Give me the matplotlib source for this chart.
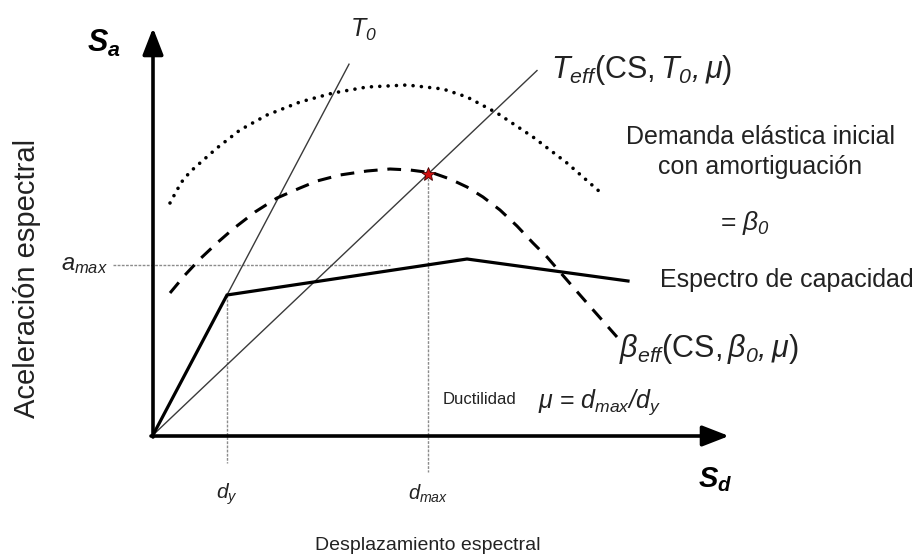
import matplotlib.pyplot as plt

plt.rcParams['font.family'] = ['Liberation Sans', 'DejaVu Sans']
plt.rcParams['mathtext.fontset'] = 'custom'
# rm en cursiva para que los subindices numericos salgan inclinados; sf queda recta
plt.rcParams['mathtext.rm'] = 'Liberation Sans:italic'
plt.rcParams['mathtext.it'] = 'Liberation Sans:italic'
plt.rcParams['mathtext.sf'] = 'Liberation Sans'
plt.rcParams['mathtext.bf'] = 'Liberation Sans:italic:bold'

# espectro de capacidad (bilineal con degradacion)
cap_sd = [0, 74, 314, 475]
cap_sa = [0, 140, 176, 154]

# demanda elastica inicial (beta_0)
dem0_sd = [17, 24, 30, 38, 47, 64, 87, 114, 147, 180, 214, 254, 290, 314, 344, 380, 414, 447]
dem0_sa = [232, 245, 255, 264, 272, 287, 305, 320, 333, 342, 348, 350, 346, 338, 322, 298, 272, 243]

# demanda con amortiguamiento efectivo (beta_eff)
demeff_sd = [17, 32, 47, 64, 80, 102, 124, 147, 164, 187, 214, 237, 257, 280, 297,
             314, 330, 347, 364, 380, 394, 407, 420, 434, 449, 464]
demeff_sa = [142, 160, 176, 192, 206, 223, 237, 247, 254, 260, 264, 266, 265, 262, 256,
             248, 238, 225, 209, 192, 178, 163, 148, 132, 115, 98]

# punto de desempeno
d_y, a_y = 74, 140
d_max, a_max = 275, 261
a_max_cap = 170

# extremos de las rectas de periodo
t0_end = 196
teff_end = 384

fig = plt.figure(figsize=(9.18, 5.6), dpi=100)
ax = fig.add_axes([0, 0, 1, 1])
ax.set_xlim(-153, 765)
ax.set_ylim(-125, 435)
ax.axis('off')

txt = '#222222'
guide = '#8c8c8c'

# ejes con flechas
ax.annotate('', xy=(0, 407), xytext=(0, -2),
            arrowprops=dict(arrowstyle='-|>,head_length=0.9,head_width=0.35',
                            lw=2.6, color='black', mutation_scale=18, shrinkA=0, shrinkB=0))
ax.annotate('', xy=(576, -1), xytext=(-2, -1),
            arrowprops=dict(arrowstyle='-|>,head_length=0.9,head_width=0.35',
                            lw=2.6, color='black', mutation_scale=18, shrinkA=0, shrinkB=0))

# lineas guia punteadas
ax.plot([-40, 237], [a_max_cap, a_max_cap], color=guide, lw=1, ls=(0, (2, 1)))
ax.plot([d_y, d_y], [a_y, -28], color=guide, lw=1, ls=(0, (2, 1)))
ax.plot([d_max, d_max], [a_max, -37], color=guide, lw=1, ls=(0, (2, 1)))

# rectas de periodo T0 y Teff
ax.plot([0, t0_end], [0, t0_end * a_y / d_y], color='#3a3a3a', lw=1.0)
ax.plot([0, teff_end], [0, teff_end * a_max / d_max], color='#3a3a3a', lw=1.0)

# curvas de demanda
ax.plot(dem0_sd, dem0_sa, color='black', lw=2.6, ls=(0, (0.01, 2.3)),
        dash_capstyle='round')
ax.plot(demeff_sd, demeff_sa, color='black', lw=2.2, ls=(0, (4.5, 3.2)))

# espectro de capacidad
ax.plot(cap_sd, cap_sa, color='black', lw=2.3, solid_joinstyle='miter')

# punto de desempeno
ax.plot([d_max], [a_max], marker='*', ms=10, color='#d01010', mec='#400000', mew=0.6)

# textos
ax.text(-49, 392, r'$\mathbf{S}_{\mathbf{a}}$', fontsize=22, ha='center', va='center', color='black')
ax.text(562, -45, r'$\mathbf{S}_{\mathbf{d}}$', fontsize=21, ha='center', va='center', color='black')
ax.text(210, 405, r'$T_{0}$', fontsize=18, ha='center', va='center', color=txt)
ax.text(398, 365, r'$T_{eff}\mathsf{(CS,}T_{0},\mu\mathsf{)}$', fontsize=22,
        ha='left', va='center', color=txt)
ax.text(607, 298, 'Demanda elástica inicial', fontsize=18, ha='center', va='center', color=txt)
ax.text(607, 268, 'con amortiguación', fontsize=18, ha='center', va='center', color=txt)
ax.text(592, 212, r'= $\beta_{0}$', fontsize=19, ha='center', va='center', color=txt)
ax.text(507, 155, 'Espectro de capacidad', fontsize=18, ha='left', va='center', color=txt)
ax.text(466, 86, r'$\beta_{eff}\mathsf{(CS,}\beta_{0},\mu\mathsf{)}$', fontsize=22,
        ha='left', va='center', color=txt)
ax.text(290, 36, 'Ductilidad', fontsize=12, ha='left', va='center', color=txt)
ax.text(385, 33, r'$\mu$ = $d_{max}/d_y$', fontsize=18, ha='left', va='center', color=txt)
ax.text(-69, 170, r'$a_{max}$', fontsize=17, ha='center', va='center', color=txt)
ax.text(d_y, -59, r'$d_y$', fontsize=15, ha='center', va='center', color=txt)
ax.text(d_max, -59, r'$d_{max}$', fontsize=14.5, ha='center', va='center', color=txt)
ax.text(-126, 157, 'Aceleración espectral', fontsize=21, rotation=90,
        ha='center', va='center', color=txt)
ax.text(275, -110, 'Desplazamiento espectral', fontsize=14, ha='center', va='center', color=txt)

fig.savefig('out.png', dpi=100)
